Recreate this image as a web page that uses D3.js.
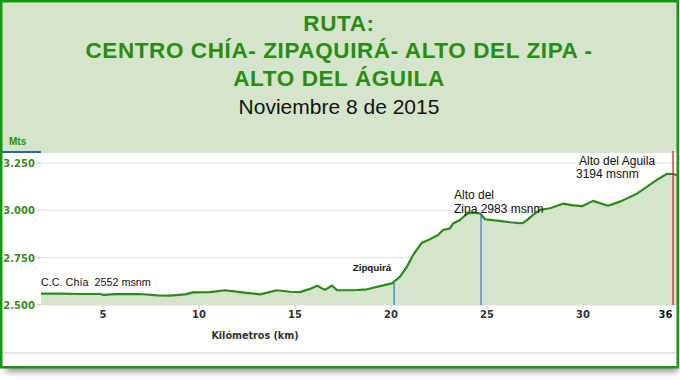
<!DOCTYPE html>
<html><head><meta charset="utf-8">
<script src="https://cdn.jsdelivr.net/npm/d3@7"></script>
<style>html,body{margin:0;padding:0;background:#fff;}svg{display:block;}text{white-space:pre;}</style>
</head><body>
<script>
// ---- data ----
const titleLines = ["RUTA:", "CENTRO CHÍA- ZIPAQUIRÁ- ALTO DEL ZIPA -", "ALTO DEL ÁGUILA"];
const subtitle = "Noviembre 8 de 2015";
const km = [1.77,2.76,3.80,4.84,5.05,5.63,6.93,7.81,8.49,9.27,9.69,10.57,11.35,12.14,13.18,14.06,14.74,15.26,15.78,16.15,16.56,16.93,17.19,18.02,18.75,19.43,20.05,20.31,20.47,20.83,21.15,21.61,22.03,22.45,22.71,23.07,23.23,23.59,23.96,24.22,24.64,24.90,25.16,25.52,25.68,26.20,26.72,26.88,27.08,27.40,27.76,28.28,28.96,29.48,29.95,30.52,31.30,31.93,32.81,33.85,34.38,34.69,34.90];
const elev = [2560,2560,2558,2558,2553,2557,2558,2551,2550,2556,2567,2568,2578,2568,2556,2578,2570,2568,2585,2602,2580,2603,2578,2578,2583,2600,2614,2636,2650,2702,2764,2829,2847,2870,2896,2905,2930,2949,2982,2988,2984,2953,2950,2946,2944,2937,2932,2934,2948,2976,3002,3011,3035,3026,3022,3050,3024,3046,3088,3161,3193,3192,3185];
const yTicks = [2500, 2750, 3000, 3250];
const yTickLabels = ["2.500", "2.750", "3.000", "3.250"];
const xTicks = [5, 10, 15, 20, 25, 30, 34.3];
const xTickLabels = ["5", "10", "15", "20", "25", "30", "36"];
const markers = [
  {name: "C.C. Chía", km: 1.77, elev: 2552, lines: ["C.C. Chía  2552 msnm"], color: null},
  {name: "Zipquirá", km: 20.16, elev: 2618, lines: ["Zipquirá"], color: "#1f78e0"},
  {name: "Alto del Zipa", km: 24.69, elev: 2983, lines: ["Alto del", "Zipa 2983 msnm"], color: "#3576c8"},
  {name: "Alto del Aguila", km: 34.69, elev: 3194, lines: ["Alto del Aguila", "3194 msnm"], color: "#d01010"}
];
const data = km.map((k, i) => ({k, v: elev[i]}));

// ---- chart ----
const W = 680, H = 380;
const svg = d3.select("body").append("svg").attr("width", W).attr("height", H);
const defs = svg.append("defs");
const f = defs.append("filter").attr("id", "sh").attr("x", "-5%").attr("y", "-5%").attr("width", "110%").attr("height", "120%");
f.append("feGaussianBlur").attr("stdDeviation", 3);

const green = "#2a8c12";
// shadow
svg.append("rect").attr("x", 6).attr("y", 8).attr("width", 672).attr("height", 364).attr("fill", "#999").attr("filter", "url(#sh)");
// panel
svg.append("rect").attr("x", 1).attr("y", 1).attr("width", 677).attr("height", 366).attr("fill", "#fff");
svg.append("rect").attr("x", 1).attr("y", 1).attr("width", 677).attr("height", 152).attr("fill", "#d4e5cc");

// titles
const tt = svg.append("g").attr("font-family", "Liberation Sans, Arial, sans-serif").attr("text-anchor", "middle");
const tY = [31, 58, 86];
titleLines.forEach((t, i) => tt.append("text").attr("x", 339).attr("y", tY[i]).attr("font-size", 22.5)
  .attr("font-weight", "bold").attr("letter-spacing", 0.6).attr("fill", green).text(t));
tt.append("text").attr("x", 339).attr("y", 114).attr("font-size", 21).attr("fill", "#111").text(subtitle);

// Mts
svg.append("text").attr("x", 9).attr("y", 145).attr("font-family", "Liberation Sans, Arial, sans-serif").attr("font-size", 10).attr("font-weight", "bold").attr("fill", green).text("Mts");
svg.append("line").attr("x1", 2).attr("x2", 41).attr("y1", 152).attr("y2", 152).attr("stroke", "#2c64b4").attr("stroke-width", 2);

const x = d3.scaleLinear().domain([5, 30]).range([103, 583]);
const y = d3.scaleLinear().domain([2500, 3250]).range([305, 163]);
const left = 41, right = 677;

// grid
svg.append("g").selectAll("line").data(yTicks).join("line")
  .attr("x1", 38).attr("x2", right).attr("y1", d => y(d)).attr("y2", d => y(d))
  .attr("stroke", "#e2e2e2").attr("stroke-width", 1);
svg.append("g").selectAll("line").data(yTicks).join("line")
  .attr("x1", 37).attr("x2", left).attr("y1", d => y(d)).attr("y2", d => y(d))
  .attr("stroke", "#b8c8d8");

// area & line
const area = d3.area().x(d => x(d.k)).y0(y(2500)).y1(d => y(d.v));
const line = d3.line().x(d => x(d.k)).y(d => y(d.v));
svg.append("path").datum(data).attr("d", area).attr("fill", "#d4e5cc");
svg.append("path").datum(data).attr("d", line).attr("fill", "none").attr("stroke", "#2a8a1a").attr("stroke-width", 2.2).attr("stroke-linejoin", "round");

// y labels
svg.append("g").selectAll("text").data(yTicks).join("text")
  .attr("x", 35).attr("y", d => y(d) + 4).attr("text-anchor", "end")
  .attr("font-family", "DejaVu Sans, Verdana, sans-serif").attr("font-weight", "bold").attr("font-size", 10)
  .attr("fill", "#3d8a1a").text((d, i) => yTickLabels[i]);

// x ticks
const xg = svg.append("g");
xg.selectAll("line").data(xTicks.slice(0, 6)).join("line")
  .attr("x1", d => x(d)).attr("x2", d => x(d)).attr("y1", 305).attr("y2", 309).attr("stroke", "#b8c8d8");
xg.selectAll("text").data(xTicks).join("text")
  .attr("x", d => x(d)).attr("y", 318).attr("text-anchor", "middle")
  .attr("font-family", "DejaVu Sans, Verdana, sans-serif").attr("font-weight", "bold").attr("font-size", 10)
  .attr("fill", (d, i) => i === 6 ? "#111" : "#333").text((d, i) => xTickLabels[i]);
svg.append("text").attr("x", 255).attr("y", 339).attr("text-anchor", "middle")
  .attr("font-family", "DejaVu Sans, Verdana, sans-serif").attr("font-weight", "bold").attr("font-size", 9.6)
  .attr("fill", "#333").text("Kilómetros (km)");

// bottom rule
svg.append("line").attr("x1", 2).attr("x2", 677).attr("y1", 353).attr("y2", 353).attr("stroke", "#c8c8c8");

// markers
const m = markers;
svg.append("line").attr("x1", x(m[1].km)).attr("x2", x(m[1].km)).attr("y1", y(m[1].elev)).attr("y2", 305).attr("stroke", m[1].color).attr("stroke-width", 1.2);
svg.append("line").attr("x1", x(m[2].km)).attr("x2", x(m[2].km)).attr("y1", y(m[2].elev)).attr("y2", 305).attr("stroke", m[2].color).attr("stroke-width", 1.2);
svg.append("line").attr("x1", x(m[3].km)).attr("x2", x(m[3].km)).attr("y1", 151).attr("y2", 305).attr("stroke", m[3].color).attr("stroke-width", 1.2);

const af = "Liberation Sans, Arial, sans-serif";
svg.append("text").attr("x", 41).attr("y", 286).attr("font-family", af).attr("font-size", 10.8).attr("fill", "#111").text(m[0].lines[0]);
svg.append("text").attr("x", 372).attr("y", 271).attr("text-anchor", "middle").attr("font-family", af).attr("font-weight", "bold").attr("font-size", 9.8).attr("fill", "#111").text(m[1].lines[0]);
svg.append("text").attr("x", 454).attr("y", 199).attr("font-family", af).attr("font-size", 12).attr("fill", "#111").text(m[2].lines[0]);
svg.append("text").attr("x", 454).attr("y", 213).attr("font-family", af).attr("font-size", 12).attr("fill", "#111").text(m[2].lines[1]);
svg.append("text").attr("x", 579).attr("y", 165).attr("font-family", af).attr("font-size", 12).attr("fill", "#111").text(m[3].lines[0]);
svg.append("text").attr("x", 576).attr("y", 178).attr("font-family", af).attr("font-size", 12).attr("fill", "#111").text(m[3].lines[1]);

// frame
svg.append("rect").attr("x", 1.25).attr("y", 1.25).attr("width", 676.5).attr("height", 366).attr("fill", "none").attr("stroke", "#15980f").attr("stroke-width", 2.5);
</script>
</body></html>
